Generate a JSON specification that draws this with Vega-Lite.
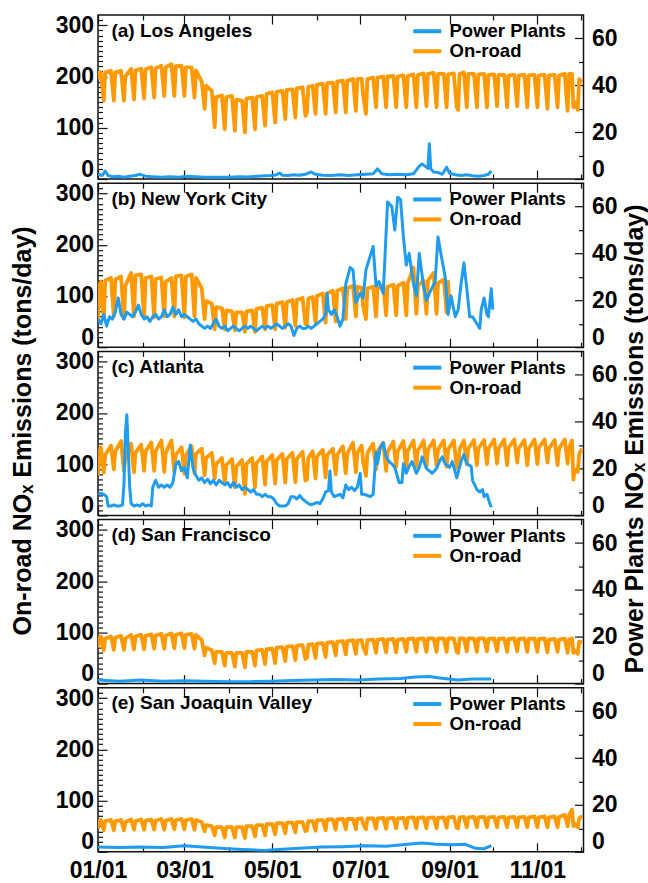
{
"$schema": "https://vega.github.io/schema/vega-lite/v6.json",
"padding": {"left": 9, "top": 8, "right": 2, "bottom": 0},
"config": {
  "font": "Liberation Sans",
  "view": {"stroke": "#111", "strokeWidth": 1.5},
  "axis": {"labelFont": "Liberation Sans", "labelFontWeight": "bold", "labelFontSize": 23, "labelColor": "#000", "tickColor": "#111", "tickWidth": 1.2, "domain": false, "grid": false, "labelOverlap": false, "labelBound": false, "titleFont": "Liberation Sans", "titleFontWeight": "bold", "titleFontSize": 25, "titleColor": "#000"},
  "axisX": {"labelFlush": false},
  "line": {"strokeJoin": "round"},
  "text": {"font": "Liberation Sans", "fontSize": 19, "fontWeight": "bold", "color": "#000", "align": "left", "baseline": "alphabetic", "dx": 0.5}
},
"datasets": {
"road": [
{"d":"2020-01-01","la":195,"ny":55,"at":78,"sf":70,"sj":45},
{"d":"2020-01-02","la":208,"ny":120,"at":125,"sf":90,"sj":60},
{"d":"2020-01-03","la":208,"ny":128,"at":133,"sf":92,"sj":62},
{"d":"2020-01-05","la":153,"ny":55,"at":84,"sf":65,"sj":42},
{"d":"2020-01-06","la":208,"ny":130,"at":118,"sf":88,"sj":60},
{"d":"2020-01-10","la":211,"ny":135,"at":136,"sf":92,"sj":62},
{"d":"2020-01-12","la":153,"ny":60,"at":90,"sf":66,"sj":42},
{"d":"2020-01-13","la":208,"ny":132,"at":125,"sf":90,"sj":60},
{"d":"2020-01-17","la":211,"ny":138,"at":145,"sf":93,"sj":62},
{"d":"2020-01-19","la":153,"ny":56,"at":87,"sf":66,"sj":42},
{"d":"2020-01-20","la":200,"ny":120,"at":112,"sf":88,"sj":58},
{"d":"2020-01-24","la":215,"ny":145,"at":140,"sf":95,"sj":63},
{"d":"2020-01-26","la":155,"ny":60,"at":84,"sf":67,"sj":43},
{"d":"2020-01-27","la":212,"ny":140,"at":122,"sf":92,"sj":60},
{"d":"2020-01-31","la":215,"ny":142,"at":138,"sf":95,"sj":63},
{"d":"2020-02-02","la":157,"ny":58,"at":87,"sf":67,"sj":43},
{"d":"2020-02-03","la":214,"ny":135,"at":125,"sf":93,"sj":61},
{"d":"2020-02-07","la":218,"ny":138,"at":142,"sf":96,"sj":63},
{"d":"2020-02-09","la":159,"ny":58,"at":87,"sf":68,"sj":43},
{"d":"2020-02-10","la":216,"ny":133,"at":125,"sf":94,"sj":61},
{"d":"2020-02-14","la":221,"ny":136,"at":146,"sf":97,"sj":64},
{"d":"2020-02-16","la":162,"ny":60,"at":85,"sf":68,"sj":43},
{"d":"2020-02-17","la":218,"ny":128,"at":122,"sf":94,"sj":61},
{"d":"2020-02-21","la":224,"ny":135,"at":146,"sf":98,"sj":64},
{"d":"2020-02-23","la":162,"ny":60,"at":84,"sf":69,"sj":44},
{"d":"2020-02-24","la":220,"ny":138,"at":118,"sf":95,"sj":62},
{"d":"2020-02-28","la":221,"ny":140,"at":133,"sf":98,"sj":64},
{"d":"2020-03-01","la":162,"ny":58,"at":81,"sf":69,"sj":44},
{"d":"2020-03-02","la":218,"ny":138,"at":118,"sf":95,"sj":62},
{"d":"2020-03-06","la":218,"ny":142,"at":135,"sf":97,"sj":64},
{"d":"2020-03-08","la":159,"ny":60,"at":82,"sf":68,"sj":43},
{"d":"2020-03-09","la":212,"ny":135,"at":120,"sf":95,"sj":62},
{"d":"2020-03-13","la":190,"ny":115,"at":130,"sf":85,"sj":58},
{"d":"2020-03-15","la":137,"ny":55,"at":78,"sf":55,"sj":40},
{"d":"2020-03-16","la":182,"ny":90,"at":112,"sf":70,"sj":52},
{"d":"2020-03-20","la":172,"ny":85,"at":122,"sf":65,"sj":50},
{"d":"2020-03-22","la":101,"ny":35,"at":72,"sf":40,"sj":32},
{"d":"2020-03-23","la":160,"ny":78,"at":100,"sf":62,"sj":48},
{"d":"2020-03-27","la":163,"ny":76,"at":112,"sf":62,"sj":48},
{"d":"2020-03-29","la":97,"ny":35,"at":64,"sf":35,"sj":28},
{"d":"2020-03-30","la":160,"ny":72,"at":98,"sf":60,"sj":48},
{"d":"2020-04-03","la":162,"ny":70,"at":110,"sf":60,"sj":48},
{"d":"2020-04-05","la":94,"ny":33,"at":55,"sf":33,"sj":28},
{"d":"2020-04-06","la":155,"ny":68,"at":95,"sf":60,"sj":48},
{"d":"2020-04-10","la":153,"ny":68,"at":108,"sf":60,"sj":48},
{"d":"2020-04-12","la":91,"ny":30,"at":42,"sf":32,"sj":27},
{"d":"2020-04-13","la":157,"ny":70,"at":100,"sf":62,"sj":50},
{"d":"2020-04-17","la":159,"ny":72,"at":112,"sf":62,"sj":50},
{"d":"2020-04-19","la":97,"ny":30,"at":55,"sf":35,"sj":30},
{"d":"2020-04-20","la":160,"ny":75,"at":102,"sf":65,"sj":52},
{"d":"2020-04-24","la":162,"ny":77,"at":115,"sf":66,"sj":52},
{"d":"2020-04-26","la":104,"ny":35,"at":60,"sf":38,"sj":32},
{"d":"2020-04-27","la":166,"ny":80,"at":105,"sf":67,"sj":54},
{"d":"2020-05-01","la":169,"ny":82,"at":118,"sf":68,"sj":54},
{"d":"2020-05-03","la":110,"ny":35,"at":62,"sf":40,"sj":34},
{"d":"2020-05-04","la":170,"ny":85,"at":108,"sf":70,"sj":56},
{"d":"2020-05-08","la":172,"ny":88,"at":120,"sf":71,"sj":56},
{"d":"2020-05-10","la":117,"ny":38,"at":64,"sf":44,"sj":36},
{"d":"2020-05-11","la":174,"ny":88,"at":110,"sf":72,"sj":57},
{"d":"2020-05-15","la":175,"ny":92,"at":122,"sf":73,"sj":57},
{"d":"2020-05-17","la":120,"ny":42,"at":65,"sf":46,"sj":38},
{"d":"2020-05-18","la":177,"ny":92,"at":110,"sf":74,"sj":58},
{"d":"2020-05-22","la":179,"ny":96,"at":124,"sf":75,"sj":58},
{"d":"2020-05-24","la":123,"ny":45,"at":68,"sf":48,"sj":40},
{"d":"2020-05-25","la":130,"ny":45,"at":70,"sf":50,"sj":42},
{"d":"2020-05-26","la":180,"ny":95,"at":112,"sf":76,"sj":60},
{"d":"2020-05-29","la":182,"ny":98,"at":125,"sf":77,"sj":60},
{"d":"2020-05-31","la":127,"ny":48,"at":72,"sf":50,"sj":41},
{"d":"2020-06-01","la":184,"ny":100,"at":115,"sf":78,"sj":62},
{"d":"2020-06-05","la":186,"ny":105,"at":128,"sf":79,"sj":62},
{"d":"2020-06-07","la":127,"ny":48,"at":74,"sf":52,"sj":42},
{"d":"2020-06-08","la":187,"ny":105,"at":118,"sf":80,"sj":63},
{"d":"2020-06-12","la":188,"ny":110,"at":130,"sf":81,"sj":63},
{"d":"2020-06-14","la":130,"ny":50,"at":80,"sf":55,"sj":43},
{"d":"2020-06-15","la":190,"ny":110,"at":118,"sf":82,"sj":63},
{"d":"2020-06-19","la":192,"ny":115,"at":135,"sf":83,"sj":64},
{"d":"2020-06-21","la":130,"ny":55,"at":82,"sf":57,"sj":44},
{"d":"2020-06-22","la":192,"ny":115,"at":120,"sf":83,"sj":64},
{"d":"2020-06-26","la":195,"ny":120,"at":142,"sf":85,"sj":64},
{"d":"2020-06-28","la":133,"ny":60,"at":84,"sf":58,"sj":44},
{"d":"2020-06-29","la":195,"ny":118,"at":122,"sf":84,"sj":64},
{"d":"2020-07-02","la":196,"ny":116,"at":136,"sf":85,"sj":65},
{"d":"2020-07-03","la":165,"ny":80,"at":105,"sf":72,"sj":55},
{"d":"2020-07-05","la":127,"ny":55,"at":77,"sf":58,"sj":44},
{"d":"2020-07-06","la":195,"ny":115,"at":122,"sf":85,"sj":65},
{"d":"2020-07-10","la":198,"ny":118,"at":140,"sf":86,"sj":65},
{"d":"2020-07-12","la":140,"ny":60,"at":90,"sf":60,"sj":45},
{"d":"2020-07-13","la":198,"ny":115,"at":124,"sf":86,"sj":65},
{"d":"2020-07-17","la":200,"ny":120,"at":142,"sf":87,"sj":66},
{"d":"2020-07-19","la":140,"ny":62,"at":87,"sf":61,"sj":45},
{"d":"2020-07-20","la":200,"ny":118,"at":124,"sf":86,"sj":65},
{"d":"2020-07-24","la":201,"ny":122,"at":144,"sf":87,"sj":66},
{"d":"2020-07-26","la":140,"ny":62,"at":95,"sf":61,"sj":46},
{"d":"2020-07-27","la":200,"ny":120,"at":125,"sf":86,"sj":65},
{"d":"2020-07-31","la":202,"ny":126,"at":145,"sf":87,"sj":66},
{"d":"2020-08-02","la":140,"ny":62,"at":90,"sf":62,"sj":46},
{"d":"2020-08-03","la":201,"ny":125,"at":126,"sf":87,"sj":66},
{"d":"2020-08-07","la":204,"ny":155,"at":146,"sf":88,"sj":67},
{"d":"2020-08-09","la":140,"ny":65,"at":95,"sf":62,"sj":46},
{"d":"2020-08-10","la":203,"ny":120,"at":126,"sf":87,"sj":66},
{"d":"2020-08-14","la":206,"ny":130,"at":146,"sf":88,"sj":67},
{"d":"2020-08-16","la":142,"ny":65,"at":95,"sf":62,"sj":46},
{"d":"2020-08-17","la":205,"ny":130,"at":128,"sf":88,"sj":66},
{"d":"2020-08-21","la":207,"ny":145,"at":146,"sf":88,"sj":67},
{"d":"2020-08-23","la":140,"ny":65,"at":98,"sf":62,"sj":46},
{"d":"2020-08-24","la":205,"ny":125,"at":128,"sf":88,"sj":66},
{"d":"2020-08-28","la":205,"ny":132,"at":146,"sf":88,"sj":67},
{"d":"2020-08-30","la":140,"ny":68,"at":95,"sf":62,"sj":47},
{"d":"2020-08-31","la":204,"ny":128,"at":128,"sf":88,"sj":67},
{"d":"2020-09-01","ny":75},
{"d":"2020-09-04","la":206,"at":146,"sf":88,"sj":68},
{"d":"2020-09-06","la":140,"at":95,"sf":62,"sj":47},
{"d":"2020-09-07","la":135,"at":90,"sf":60,"sj":46},
{"d":"2020-09-08","la":205,"at":130,"sf":88,"sj":67},
{"d":"2020-09-11","la":208,"at":146,"sf":88,"sj":68},
{"d":"2020-09-13","la":140,"at":100,"sf":63,"sj":48},
{"d":"2020-09-14","la":205,"at":130,"sf":88,"sj":67},
{"d":"2020-09-18","la":205,"at":147,"sf":88,"sj":68},
{"d":"2020-09-20","la":140,"at":98,"sf":62,"sj":48},
{"d":"2020-09-21","la":204,"at":130,"sf":88,"sj":67},
{"d":"2020-09-25","la":205,"at":147,"sf":88,"sj":68},
{"d":"2020-09-27","la":140,"at":100,"sf":63,"sj":48},
{"d":"2020-09-28","la":203,"at":130,"sf":87,"sj":67},
{"d":"2020-10-02","la":204,"at":148,"sf":88,"sj":68},
{"d":"2020-10-04","la":142,"at":101,"sf":63,"sj":48},
{"d":"2020-10-05","la":203,"at":130,"sf":87,"sj":67},
{"d":"2020-10-09","la":203,"at":148,"sf":88,"sj":68},
{"d":"2020-10-11","la":140,"at":98,"sf":62,"sj":48},
{"d":"2020-10-12","la":202,"at":132,"sf":87,"sj":67},
{"d":"2020-10-16","la":203,"at":148,"sf":88,"sj":68},
{"d":"2020-10-18","la":142,"at":103,"sf":63,"sj":48},
{"d":"2020-10-19","la":202,"at":130,"sf":87,"sj":67},
{"d":"2020-10-23","la":203,"at":147,"sf":88,"sj":68},
{"d":"2020-10-25","la":140,"at":98,"sf":62,"sj":48},
{"d":"2020-10-26","la":202,"at":130,"sf":87,"sj":67},
{"d":"2020-10-30","la":203,"at":148,"sf":88,"sj":69},
{"d":"2020-11-01","la":140,"at":100,"sf":62,"sj":48},
{"d":"2020-11-02","la":202,"at":132,"sf":87,"sj":67},
{"d":"2020-11-06","la":203,"at":148,"sf":88,"sj":69},
{"d":"2020-11-08","la":137,"at":103,"sf":61,"sj":48},
{"d":"2020-11-09","la":202,"at":130,"sf":86,"sj":67},
{"d":"2020-11-13","la":203,"at":147,"sf":87,"sj":69},
{"d":"2020-11-15","la":140,"at":98,"sf":62,"sj":48},
{"d":"2020-11-16","la":202,"at":130,"sf":86,"sj":68},
{"d":"2020-11-20","la":205,"at":148,"sf":88,"sj":72},
{"d":"2020-11-22","la":133,"at":101,"sf":60,"sj":50},
{"d":"2020-11-23","la":205,"at":132,"sf":86,"sj":72},
{"d":"2020-11-25","la":205,"at":146,"sf":88,"sj":82},
{"d":"2020-11-26","la":140,"at":70,"sf":60,"sj":50},
{"d":"2020-11-27","la":150,"at":90,"sf":65,"sj":55},
{"d":"2020-11-29","la":135,"at":85,"sf":58,"sj":48},
{"d":"2020-11-30","la":195,"at":120,"sf":82,"sj":65},
{"d":"2020-12-02","la":188,"at":130,"sf":80,"sj":70}
],
"pla": [
{"d":"2020-01-01","v":2},{"d":"2020-01-04","v":1.5},{"d":"2020-01-06","v":3.4},{"d":"2020-01-08","v":1.5},{"d":"2020-01-11","v":1},{"d":"2020-01-15","v":1.2},{"d":"2020-01-19","v":0.8},{"d":"2020-01-23","v":1.2},{"d":"2020-01-27","v":1.5},{"d":"2020-01-30","v":2},{"d":"2020-02-03","v":1.2},{"d":"2020-02-08","v":1},{"d":"2020-02-14","v":0.8},{"d":"2020-02-20","v":1},{"d":"2020-02-26","v":0.8},{"d":"2020-03-03","v":1.2},{"d":"2020-03-09","v":1},{"d":"2020-03-15","v":0.8},{"d":"2020-03-21","v":0.7},{"d":"2020-03-27","v":0.8},{"d":"2020-04-02","v":0.8},{"d":"2020-04-08","v":1},{"d":"2020-04-14","v":0.9},{"d":"2020-04-20","v":1.2},{"d":"2020-04-26","v":1.4},{"d":"2020-04-30","v":1.5},{"d":"2020-05-04","v":1.8},{"d":"2020-05-06","v":2.6},{"d":"2020-05-08","v":1.6},{"d":"2020-05-12","v":1.5},{"d":"2020-05-16","v":1.8},{"d":"2020-05-20","v":1.6},{"d":"2020-05-24","v":2},{"d":"2020-05-28","v":3},{"d":"2020-05-31","v":2},{"d":"2020-06-05","v":1.6},{"d":"2020-06-11","v":1.5},{"d":"2020-06-17","v":1.8},{"d":"2020-06-23","v":1.5},{"d":"2020-06-29","v":1.8},{"d":"2020-07-05","v":2},{"d":"2020-07-10","v":2.2},{"d":"2020-07-13","v":4.3},{"d":"2020-07-16","v":2.2},{"d":"2020-07-21","v":1.8},{"d":"2020-07-27","v":2},{"d":"2020-08-02","v":1.8},{"d":"2020-08-07","v":2.2},{"d":"2020-08-11","v":5.5},{"d":"2020-08-13","v":6.4},{"d":"2020-08-15","v":5.5},{"d":"2020-08-17","v":4.5},{"d":"2020-08-18","v":15},{"d":"2020-08-19","v":4.3},{"d":"2020-08-21","v":3},{"d":"2020-08-24","v":2.8},{"d":"2020-08-27","v":2},{"d":"2020-08-30","v":5},{"d":"2020-09-01","v":2.5},{"d":"2020-09-05","v":1.8},{"d":"2020-09-09","v":1.5},{"d":"2020-09-13","v":1.8},{"d":"2020-09-17","v":1.4},{"d":"2020-09-21","v":1.2},{"d":"2020-09-25","v":1.5},{"d":"2020-09-28","v":2},{"d":"2020-09-30","v":3.4}
],
"pny": [
{"d":"2020-01-01","v":12},{"d":"2020-01-03","v":10},{"d":"2020-01-05","v":14},{"d":"2020-01-07","v":9},{"d":"2020-01-09","v":13},{"d":"2020-01-11","v":12},{"d":"2020-01-13","v":15},{"d":"2020-01-15","v":21},{"d":"2020-01-17","v":14},{"d":"2020-01-19","v":12},{"d":"2020-01-21","v":15},{"d":"2020-01-23","v":14},{"d":"2020-01-25","v":13},{"d":"2020-01-27","v":15},{"d":"2020-01-29","v":18},{"d":"2020-01-31","v":14},{"d":"2020-02-02","v":12},{"d":"2020-02-04","v":13},{"d":"2020-02-06","v":11},{"d":"2020-02-08","v":13},{"d":"2020-02-10","v":14},{"d":"2020-02-12","v":12},{"d":"2020-02-14","v":13},{"d":"2020-02-16","v":16},{"d":"2020-02-18","v":13},{"d":"2020-02-20","v":14},{"d":"2020-02-22","v":17},{"d":"2020-02-24","v":14},{"d":"2020-02-26","v":16},{"d":"2020-02-28","v":13},{"d":"2020-03-01","v":14},{"d":"2020-03-03","v":13},{"d":"2020-03-05","v":12},{"d":"2020-03-07","v":11},{"d":"2020-03-09","v":12},{"d":"2020-03-11","v":10},{"d":"2020-03-13","v":9},{"d":"2020-03-15","v":8},{"d":"2020-03-17","v":9},{"d":"2020-03-19","v":8},{"d":"2020-03-21","v":10},{"d":"2020-03-23","v":12},{"d":"2020-03-25","v":9},{"d":"2020-03-27","v":8},{"d":"2020-03-29","v":9},{"d":"2020-03-31","v":7},{"d":"2020-04-02","v":8},{"d":"2020-04-04","v":9},{"d":"2020-04-06","v":8},{"d":"2020-04-08","v":7},{"d":"2020-04-10","v":8},{"d":"2020-04-12","v":9},{"d":"2020-04-14","v":8},{"d":"2020-04-16","v":9},{"d":"2020-04-18","v":8},{"d":"2020-04-20","v":7},{"d":"2020-04-22","v":8},{"d":"2020-04-24","v":9},{"d":"2020-04-26","v":8},{"d":"2020-04-28","v":9},{"d":"2020-04-30","v":8},{"d":"2020-05-02","v":9},{"d":"2020-05-04","v":10},{"d":"2020-05-06","v":9},{"d":"2020-05-08","v":8},{"d":"2020-05-10","v":9},{"d":"2020-05-12","v":10},{"d":"2020-05-14","v":9},{"d":"2020-05-16","v":5},{"d":"2020-05-18","v":8},{"d":"2020-05-20","v":9},{"d":"2020-05-22","v":8},{"d":"2020-05-24","v":8},{"d":"2020-05-26","v":9},{"d":"2020-05-28","v":8},{"d":"2020-05-30","v":9},{"d":"2020-06-01","v":10},{"d":"2020-06-03","v":11},{"d":"2020-06-05","v":12},{"d":"2020-06-07","v":14},{"d":"2020-06-08","v":23},{"d":"2020-06-09","v":16},{"d":"2020-06-11","v":14},{"d":"2020-06-13","v":16},{"d":"2020-06-15","v":13},{"d":"2020-06-17","v":9},{"d":"2020-06-19","v":12},{"d":"2020-06-21","v":27},{"d":"2020-06-24","v":34},{"d":"2020-06-26","v":33},{"d":"2020-06-28","v":19},{"d":"2020-07-01","v":23},{"d":"2020-07-03","v":21},{"d":"2020-07-05","v":33},{"d":"2020-07-07","v":37},{"d":"2020-07-10","v":43},{"d":"2020-07-12","v":26},{"d":"2020-07-14","v":28},{"d":"2020-07-17","v":23},{"d":"2020-07-20","v":62},{"d":"2020-07-23","v":60},{"d":"2020-07-25","v":50},{"d":"2020-07-27","v":64},{"d":"2020-07-29","v":63},{"d":"2020-07-31","v":47},{"d":"2020-08-02","v":35},{"d":"2020-08-04","v":40},{"d":"2020-08-07","v":27},{"d":"2020-08-09","v":22},{"d":"2020-08-11","v":40},{"d":"2020-08-14","v":26},{"d":"2020-08-16","v":20},{"d":"2020-08-18","v":23},{"d":"2020-08-22","v":28},{"d":"2020-08-24","v":47},{"d":"2020-08-26","v":40},{"d":"2020-08-29","v":30},{"d":"2020-08-31","v":14},{"d":"2020-09-02","v":22},{"d":"2020-09-05","v":13},{"d":"2020-09-07","v":16},{"d":"2020-09-09","v":27},{"d":"2020-09-11","v":36},{"d":"2020-09-13","v":25},{"d":"2020-09-15","v":13},{"d":"2020-09-17","v":13},{"d":"2020-09-20","v":10},{"d":"2020-09-22","v":8},{"d":"2020-09-23","v":16},{"d":"2020-09-25","v":21},{"d":"2020-09-27","v":14},{"d":"2020-09-28","v":13},{"d":"2020-09-30","v":25},{"d":"2020-10-01","v":16}
],
"pat": [
{"d":"2020-01-01","v":9},{"d":"2020-01-03","v":9.5},{"d":"2020-01-05","v":9},{"d":"2020-01-07","v":8},{"d":"2020-01-08","v":4},{"d":"2020-01-10","v":4},{"d":"2020-01-12","v":4.5},{"d":"2020-01-14","v":4},{"d":"2020-01-16","v":4},{"d":"2020-01-18","v":4.5},{"d":"2020-01-19","v":13},{"d":"2020-01-20","v":35},{"d":"2020-01-21","v":43},{"d":"2020-01-22","v":28},{"d":"2020-01-23","v":12},{"d":"2020-01-24","v":5},{"d":"2020-01-26","v":4},{"d":"2020-01-28","v":4.5},{"d":"2020-01-30","v":4},{"d":"2020-02-01","v":5},{"d":"2020-02-03","v":4},{"d":"2020-02-05","v":4.5},{"d":"2020-02-07","v":4},{"d":"2020-02-08","v":12},{"d":"2020-02-10","v":15},{"d":"2020-02-12","v":12},{"d":"2020-02-14","v":13},{"d":"2020-02-16","v":12},{"d":"2020-02-18","v":13},{"d":"2020-02-20","v":12},{"d":"2020-02-22","v":14},{"d":"2020-02-24","v":22},{"d":"2020-02-26","v":23},{"d":"2020-02-28","v":19},{"d":"2020-03-01","v":20.5},{"d":"2020-03-03","v":16},{"d":"2020-03-05","v":30},{"d":"2020-03-07","v":20},{"d":"2020-03-09","v":17},{"d":"2020-03-11","v":15},{"d":"2020-03-13","v":16},{"d":"2020-03-15","v":14},{"d":"2020-03-17","v":15.5},{"d":"2020-03-19","v":13.5},{"d":"2020-03-21","v":15},{"d":"2020-03-23","v":13},{"d":"2020-03-25","v":15},{"d":"2020-03-27","v":14},{"d":"2020-03-29","v":13},{"d":"2020-03-31","v":14},{"d":"2020-04-02","v":12},{"d":"2020-04-04","v":14},{"d":"2020-04-06","v":12},{"d":"2020-04-08","v":13},{"d":"2020-04-10","v":11},{"d":"2020-04-12","v":12},{"d":"2020-04-14","v":11},{"d":"2020-04-16","v":10},{"d":"2020-04-18","v":11},{"d":"2020-04-20","v":9},{"d":"2020-04-22","v":9},{"d":"2020-04-24","v":8},{"d":"2020-04-26","v":9},{"d":"2020-04-28","v":8},{"d":"2020-04-30","v":8},{"d":"2020-05-02","v":7},{"d":"2020-05-04","v":5},{"d":"2020-05-06","v":4},{"d":"2020-05-08","v":4},{"d":"2020-05-10","v":4},{"d":"2020-05-12","v":5},{"d":"2020-05-14","v":8},{"d":"2020-05-16","v":8},{"d":"2020-05-18","v":7},{"d":"2020-05-20","v":8.5},{"d":"2020-05-22","v":7},{"d":"2020-05-24","v":6},{"d":"2020-05-26","v":5},{"d":"2020-05-28","v":4.5},{"d":"2020-05-30","v":5},{"d":"2020-06-01","v":5.5},{"d":"2020-06-03","v":5},{"d":"2020-06-05","v":7},{"d":"2020-06-07","v":10},{"d":"2020-06-09","v":10.6},{"d":"2020-06-10","v":19},{"d":"2020-06-11","v":10},{"d":"2020-06-13","v":8},{"d":"2020-06-15","v":8.5},{"d":"2020-06-17","v":9},{"d":"2020-06-19","v":7.5},{"d":"2020-06-21","v":13},{"d":"2020-06-23","v":11},{"d":"2020-06-25","v":12},{"d":"2020-06-27","v":10.6},{"d":"2020-06-29","v":12},{"d":"2020-07-01","v":18},{"d":"2020-07-02","v":9},{"d":"2020-07-04","v":9},{"d":"2020-07-06","v":8.5},{"d":"2020-07-08","v":8},{"d":"2020-07-10","v":9},{"d":"2020-07-12","v":27},{"d":"2020-07-13","v":22},{"d":"2020-07-15","v":29},{"d":"2020-07-17","v":31},{"d":"2020-07-19","v":25},{"d":"2020-07-21","v":23},{"d":"2020-07-23","v":22},{"d":"2020-07-25","v":20.5},{"d":"2020-07-28","v":14},{"d":"2020-07-30","v":14},{"d":"2020-07-31","v":22},{"d":"2020-08-02","v":18},{"d":"2020-08-04","v":21},{"d":"2020-08-06","v":23},{"d":"2020-08-09","v":18},{"d":"2020-08-11","v":20.5},{"d":"2020-08-13","v":25},{"d":"2020-08-16","v":20},{"d":"2020-08-18","v":19},{"d":"2020-08-20","v":18},{"d":"2020-08-23","v":20},{"d":"2020-08-25","v":23},{"d":"2020-08-27","v":25},{"d":"2020-08-29","v":22},{"d":"2020-09-01","v":20.5},{"d":"2020-09-03","v":23},{"d":"2020-09-06","v":16},{"d":"2020-09-09","v":23},{"d":"2020-09-11","v":26},{"d":"2020-09-13","v":22},{"d":"2020-09-16","v":21},{"d":"2020-09-17","v":15},{"d":"2020-09-20","v":11},{"d":"2020-09-22","v":10},{"d":"2020-09-24","v":11},{"d":"2020-09-25","v":8},{"d":"2020-09-27","v":9},{"d":"2020-09-29","v":5},{"d":"2020-09-30","v":3.5}
],
"psf": [
{"d":"2020-01-01","v":1.5},{"d":"2020-01-16","v":1},{"d":"2020-01-31","v":1.5},{"d":"2020-02-15","v":1},{"d":"2020-03-01","v":1.2},{"d":"2020-03-16","v":1},{"d":"2020-03-31","v":0.8},{"d":"2020-04-15","v":0.8},{"d":"2020-04-30","v":1},{"d":"2020-05-15","v":1.3},{"d":"2020-05-30","v":1.5},{"d":"2020-06-14","v":1.8},{"d":"2020-06-29","v":1.5},{"d":"2020-07-14","v":2},{"d":"2020-07-29","v":2.2},{"d":"2020-08-08","v":2.8},{"d":"2020-08-18","v":3},{"d":"2020-08-28","v":2.2},{"d":"2020-09-07","v":1.5},{"d":"2020-09-17","v":2},{"d":"2020-09-30","v":2}
],
"psj": [
{"d":"2020-01-01","v":2},{"d":"2020-01-16","v":1.8},{"d":"2020-01-31","v":2},{"d":"2020-02-15","v":1.8},{"d":"2020-03-01","v":2.6},{"d":"2020-03-11","v":2.2},{"d":"2020-03-26","v":1.5},{"d":"2020-04-10","v":1},{"d":"2020-04-25","v":0.6},{"d":"2020-05-05","v":1},{"d":"2020-05-20","v":1.5},{"d":"2020-06-04","v":2},{"d":"2020-06-19","v":2.2},{"d":"2020-07-04","v":2.6},{"d":"2020-07-19","v":2.4},{"d":"2020-08-03","v":3.2},{"d":"2020-08-13","v":3.8},{"d":"2020-08-23","v":3.2},{"d":"2020-09-02","v":3},{"d":"2020-09-12","v":3.2},{"d":"2020-09-19","v":1.5},{"d":"2020-09-25","v":1.3},{"d":"2020-09-30","v":2.6}
]
},
"spacing": 4.2,
"bounds": "flush",
"resolve": {"scale": {"color": "independent"}, "legend": {"color": "independent"}},
"vconcat": [
{
 "width": 485.5, "height": 164,
 "layer": [
  {"data": {"name": "road"}, "transform": [{"filter": "isValid(datum.la)"}],
   "mark": {"type": "line", "strokeWidth": 3.8, "clip": true},
   "encoding": {
    "x": {"field": "d", "type": "temporal", "scale": {"type": "utc", "domain": [1577836800000, 1606953600000]}, "axis": {"title": null, "values": [1577836800000,1580515200000,1583020800000,1585699200000,1588291200000,1590969600000,1593561600000,1596240000000,1598918400000,1601510400000,1604188800000,1606780800000], "labels": false, "tickSize": {"condition": {"test": "utcmonth(datum.value) % 2 === 0", "value": -9}, "value": -5}}},
    "y": {"field": "la", "type": "quantitative", "scale": {"domain": [0, 320], "nice": false}, "axis": {"title": null, "values": [0,10,20,30,40,50,60,70,80,90,100,110,120,130,140,150,160,170,180,190,200,210,220,230,240,250,260,270,280,290,300,310], "labelExpr": "datum.value % 100 === 0 ? datum.label : ''", "tickSize": {"condition": {"test": "datum.value % 100 === 0", "value": -9}, "value": -4.5}, "labelPadding": 13.5, "labelFlush": 1, "labelFlushOffset": 2}},
    "color": {"datum": "On-road", "scale": {"domain": ["Power Plants", "On-road"], "range": ["#1f9bf0", "#ff9900"]}, "legend": {"title": null, "orient": "none", "legendX": 320, "legendY": 7, "symbolType": "M-2,0H2", "symbolSize": 196, "symbolStrokeWidth": 4, "labelFont": "Liberation Sans", "labelFontSize": 18.5, "labelFontWeight": "bold", "labelColor": "#000", "labelOffset": 13, "rowPadding": 1, "padding": 0}}
   }},
  {"data": {"name": "pla"},
   "mark": {"type": "line", "strokeWidth": 3, "clip": true},
   "encoding": {
    "x": {"field": "d", "type": "temporal", "scale": {"type": "utc", "domain": [1577836800000, 1606953600000]}, "axis": {"orient": "top", "title": null, "values": [1577836800000,1580515200000,1583020800000,1585699200000,1588291200000,1590969600000,1593561600000,1596240000000,1598918400000,1601510400000,1604188800000,1606780800000], "labels": false, "tickSize": {"condition": {"test": "utcmonth(datum.value) % 2 === 0", "value": -9}, "value": -5}}},
    "y": {"field": "v", "type": "quantitative", "scale": {"domain": [0, 70], "nice": false}, "axis": {"orient": "right", "title": null, "values": [0,10,20,30,40,50,60], "labelExpr": "datum.value % 20 === 0 ? datum.label : ''", "tickSize": {"condition": {"test": "datum.value % 20 === 0", "value": -9}, "value": -5}, "labelPadding": 17, "labelFlush": 1, "labelFlushOffset": 2}},
    "color": {"datum": "Power Plants"}
   }},
  {"data": {"values": [{"label": "(a) Los Angeles"}]},
   "mark": {"type": "text"},
   "encoding": {
    "x": {"datum": 1578614400000, "type": "temporal", "scale": {"type": "utc", "domain": [1577836800000, 1606953600000]}, "axis": null},
    "y": {"datum": 278, "type": "quantitative", "scale": {"domain": [0, 320], "nice": false}, "axis": null},
    "text": {"field": "label", "type": "nominal"}
   }}
 ],
 "resolve": {"scale": {"x": "independent", "y": "independent"}}
},
{
 "width": 485.5, "height": 164,
 "layer": [
  {"data": {"name": "road"}, "transform": [{"filter": "isValid(datum.ny)"}],
   "mark": {"type": "line", "strokeWidth": 3.8, "clip": true},
   "encoding": {
    "x": {"field": "d", "type": "temporal", "scale": {"type": "utc", "domain": [1577836800000, 1606953600000]}, "axis": {"title": null, "values": [1577836800000,1580515200000,1583020800000,1585699200000,1588291200000,1590969600000,1593561600000,1596240000000,1598918400000,1601510400000,1604188800000,1606780800000], "labels": false, "tickSize": {"condition": {"test": "utcmonth(datum.value) % 2 === 0", "value": -9}, "value": -5}}},
    "y": {"field": "ny", "type": "quantitative", "scale": {"domain": [0, 320], "nice": false}, "axis": {"title": null, "values": [0,10,20,30,40,50,60,70,80,90,100,110,120,130,140,150,160,170,180,190,200,210,220,230,240,250,260,270,280,290,300,310], "labelExpr": "datum.value % 100 === 0 ? datum.label : ''", "tickSize": {"condition": {"test": "datum.value % 100 === 0", "value": -9}, "value": -4.5}, "labelPadding": 13.5, "labelFlush": 1, "labelFlushOffset": 2}},
    "color": {"datum": "On-road", "scale": {"domain": ["Power Plants", "On-road"], "range": ["#1f9bf0", "#ff9900"]}, "legend": {"title": null, "orient": "none", "legendX": 320, "legendY": 7, "symbolType": "M-2,0H2", "symbolSize": 196, "symbolStrokeWidth": 4, "labelFont": "Liberation Sans", "labelFontSize": 18.5, "labelFontWeight": "bold", "labelColor": "#000", "labelOffset": 13, "rowPadding": 1, "padding": 0}}
   }},
  {"data": {"name": "pny"},
   "mark": {"type": "line", "strokeWidth": 3, "clip": true},
   "encoding": {
    "x": {"field": "d", "type": "temporal", "scale": {"type": "utc", "domain": [1577836800000, 1606953600000]}, "axis": {"orient": "top", "title": null, "values": [1577836800000,1580515200000,1583020800000,1585699200000,1588291200000,1590969600000,1593561600000,1596240000000,1598918400000,1601510400000,1604188800000,1606780800000], "labels": false, "tickSize": {"condition": {"test": "utcmonth(datum.value) % 2 === 0", "value": -9}, "value": -5}}},
    "y": {"field": "v", "type": "quantitative", "scale": {"domain": [0, 70], "nice": false}, "axis": {"orient": "right", "title": null, "values": [0,10,20,30,40,50,60], "labelExpr": "datum.value % 20 === 0 ? datum.label : ''", "tickSize": {"condition": {"test": "datum.value % 20 === 0", "value": -9}, "value": -5}, "labelPadding": 17, "labelFlush": 1, "labelFlushOffset": 2}},
    "color": {"datum": "Power Plants"}
   }},
  {"data": {"values": [{"label": "(b) New York City"}]},
   "mark": {"type": "text"},
   "encoding": {
    "x": {"datum": 1578614400000, "type": "temporal", "scale": {"type": "utc", "domain": [1577836800000, 1606953600000]}, "axis": null},
    "y": {"datum": 278, "type": "quantitative", "scale": {"domain": [0, 320], "nice": false}, "axis": null},
    "text": {"field": "label", "type": "nominal"}
   }}
 ],
 "resolve": {"scale": {"x": "independent", "y": "independent"}}
},
{
 "width": 485.5, "height": 164,
 "layer": [
  {"data": {"name": "road"}, "transform": [{"filter": "isValid(datum.at)"}],
   "mark": {"type": "line", "strokeWidth": 3.8, "clip": true},
   "encoding": {
    "x": {"field": "d", "type": "temporal", "scale": {"type": "utc", "domain": [1577836800000, 1606953600000]}, "axis": {"title": null, "values": [1577836800000,1580515200000,1583020800000,1585699200000,1588291200000,1590969600000,1593561600000,1596240000000,1598918400000,1601510400000,1604188800000,1606780800000], "labels": false, "tickSize": {"condition": {"test": "utcmonth(datum.value) % 2 === 0", "value": -9}, "value": -5}}},
    "y": {"field": "at", "type": "quantitative", "scale": {"domain": [0, 320], "nice": false}, "axis": {"title": "On-road NOₓ Emissions (tons/day)", "titlePadding": 20, "titleY": 79, "values": [0,10,20,30,40,50,60,70,80,90,100,110,120,130,140,150,160,170,180,190,200,210,220,230,240,250,260,270,280,290,300,310], "labelExpr": "datum.value % 100 === 0 ? datum.label : ''", "tickSize": {"condition": {"test": "datum.value % 100 === 0", "value": -9}, "value": -4.5}, "labelPadding": 13.5, "labelFlush": 1, "labelFlushOffset": 2}},
    "color": {"datum": "On-road", "scale": {"domain": ["Power Plants", "On-road"], "range": ["#1f9bf0", "#ff9900"]}, "legend": {"title": null, "orient": "none", "legendX": 320, "legendY": 7, "symbolType": "M-2,0H2", "symbolSize": 196, "symbolStrokeWidth": 4, "labelFont": "Liberation Sans", "labelFontSize": 18.5, "labelFontWeight": "bold", "labelColor": "#000", "labelOffset": 13, "rowPadding": 1, "padding": 0}}
   }},
  {"data": {"name": "pat"},
   "mark": {"type": "line", "strokeWidth": 3, "clip": true},
   "encoding": {
    "x": {"field": "d", "type": "temporal", "scale": {"type": "utc", "domain": [1577836800000, 1606953600000]}, "axis": {"orient": "top", "title": null, "values": [1577836800000,1580515200000,1583020800000,1585699200000,1588291200000,1590969600000,1593561600000,1596240000000,1598918400000,1601510400000,1604188800000,1606780800000], "labels": false, "tickSize": {"condition": {"test": "utcmonth(datum.value) % 2 === 0", "value": -9}, "value": -5}}},
    "y": {"field": "v", "type": "quantitative", "scale": {"domain": [0, 70], "nice": false}, "axis": {"orient": "right", "title": "Power Plants NOₓ Emissions (tons/day)", "titleAngle": 270, "titleBaseline": "top", "titlePadding": 5, "titleY": 87, "values": [0,10,20,30,40,50,60], "labelExpr": "datum.value % 20 === 0 ? datum.label : ''", "tickSize": {"condition": {"test": "datum.value % 20 === 0", "value": -9}, "value": -5}, "labelPadding": 17, "labelFlush": 1, "labelFlushOffset": 2}},
    "color": {"datum": "Power Plants"}
   }},
  {"data": {"values": [{"label": "(c) Atlanta"}]},
   "mark": {"type": "text"},
   "encoding": {
    "x": {"datum": 1578614400000, "type": "temporal", "scale": {"type": "utc", "domain": [1577836800000, 1606953600000]}, "axis": null},
    "y": {"datum": 278, "type": "quantitative", "scale": {"domain": [0, 320], "nice": false}, "axis": null},
    "text": {"field": "label", "type": "nominal"}
   }}
 ],
 "resolve": {"scale": {"x": "independent", "y": "independent"}}
},
{
 "width": 485.5, "height": 164,
 "layer": [
  {"data": {"name": "road"}, "transform": [{"filter": "isValid(datum.sf)"}],
   "mark": {"type": "line", "strokeWidth": 3.8, "clip": true},
   "encoding": {
    "x": {"field": "d", "type": "temporal", "scale": {"type": "utc", "domain": [1577836800000, 1606953600000]}, "axis": {"title": null, "values": [1577836800000,1580515200000,1583020800000,1585699200000,1588291200000,1590969600000,1593561600000,1596240000000,1598918400000,1601510400000,1604188800000,1606780800000], "labels": false, "tickSize": {"condition": {"test": "utcmonth(datum.value) % 2 === 0", "value": -9}, "value": -5}}},
    "y": {"field": "sf", "type": "quantitative", "scale": {"domain": [0, 320], "nice": false}, "axis": {"title": null, "values": [0,10,20,30,40,50,60,70,80,90,100,110,120,130,140,150,160,170,180,190,200,210,220,230,240,250,260,270,280,290,300,310], "labelExpr": "datum.value % 100 === 0 ? datum.label : ''", "tickSize": {"condition": {"test": "datum.value % 100 === 0", "value": -9}, "value": -4.5}, "labelPadding": 13.5, "labelFlush": 1, "labelFlushOffset": 2}},
    "color": {"datum": "On-road", "scale": {"domain": ["Power Plants", "On-road"], "range": ["#1f9bf0", "#ff9900"]}, "legend": {"title": null, "orient": "none", "legendX": 320, "legendY": 7, "symbolType": "M-2,0H2", "symbolSize": 196, "symbolStrokeWidth": 4, "labelFont": "Liberation Sans", "labelFontSize": 18.5, "labelFontWeight": "bold", "labelColor": "#000", "labelOffset": 13, "rowPadding": 1, "padding": 0}}
   }},
  {"data": {"name": "psf"},
   "mark": {"type": "line", "strokeWidth": 3, "clip": true},
   "encoding": {
    "x": {"field": "d", "type": "temporal", "scale": {"type": "utc", "domain": [1577836800000, 1606953600000]}, "axis": {"orient": "top", "title": null, "values": [1577836800000,1580515200000,1583020800000,1585699200000,1588291200000,1590969600000,1593561600000,1596240000000,1598918400000,1601510400000,1604188800000,1606780800000], "labels": false, "tickSize": {"condition": {"test": "utcmonth(datum.value) % 2 === 0", "value": -9}, "value": -5}}},
    "y": {"field": "v", "type": "quantitative", "scale": {"domain": [0, 70], "nice": false}, "axis": {"orient": "right", "title": null, "values": [0,10,20,30,40,50,60], "labelExpr": "datum.value % 20 === 0 ? datum.label : ''", "tickSize": {"condition": {"test": "datum.value % 20 === 0", "value": -9}, "value": -5}, "labelPadding": 17, "labelFlush": 1, "labelFlushOffset": 2}},
    "color": {"datum": "Power Plants"}
   }},
  {"data": {"values": [{"label": "(d) San Francisco"}]},
   "mark": {"type": "text"},
   "encoding": {
    "x": {"datum": 1578614400000, "type": "temporal", "scale": {"type": "utc", "domain": [1577836800000, 1606953600000]}, "axis": null},
    "y": {"datum": 278, "type": "quantitative", "scale": {"domain": [0, 320], "nice": false}, "axis": null},
    "text": {"field": "label", "type": "nominal"}
   }}
 ],
 "resolve": {"scale": {"x": "independent", "y": "independent"}}
},
{
 "width": 485.5, "height": 164,
 "layer": [
  {"data": {"name": "road"}, "transform": [{"filter": "isValid(datum.sj)"}],
   "mark": {"type": "line", "strokeWidth": 3.8, "clip": true},
   "encoding": {
    "x": {"field": "d", "type": "temporal", "scale": {"type": "utc", "domain": [1577836800000, 1606953600000]}, "axis": {"title": null, "values": [1577836800000,1580515200000,1583020800000,1585699200000,1588291200000,1590969600000,1593561600000,1596240000000,1598918400000,1601510400000,1604188800000,1606780800000], "labels": true, "labelExpr": "utcmonth(datum.value) % 2 === 0 ? utcFormat(datum.value, '%m/%d') : ''", "labelPadding": 17, "tickSize": {"condition": {"test": "utcmonth(datum.value) % 2 === 0", "value": -9}, "value": -5}}},
    "y": {"field": "sj", "type": "quantitative", "scale": {"domain": [0, 320], "nice": false}, "axis": {"title": null, "values": [0,10,20,30,40,50,60,70,80,90,100,110,120,130,140,150,160,170,180,190,200,210,220,230,240,250,260,270,280,290,300,310], "labelExpr": "datum.value % 100 === 0 ? datum.label : ''", "tickSize": {"condition": {"test": "datum.value % 100 === 0", "value": -9}, "value": -4.5}, "labelPadding": 13.5, "labelFlush": 1, "labelFlushOffset": 2}},
    "color": {"datum": "On-road", "scale": {"domain": ["Power Plants", "On-road"], "range": ["#1f9bf0", "#ff9900"]}, "legend": {"title": null, "orient": "none", "legendX": 320, "legendY": 7, "symbolType": "M-2,0H2", "symbolSize": 196, "symbolStrokeWidth": 4, "labelFont": "Liberation Sans", "labelFontSize": 18.5, "labelFontWeight": "bold", "labelColor": "#000", "labelOffset": 13, "rowPadding": 1, "padding": 0}}
   }},
  {"data": {"name": "psj"},
   "mark": {"type": "line", "strokeWidth": 3, "clip": true},
   "encoding": {
    "x": {"field": "d", "type": "temporal", "scale": {"type": "utc", "domain": [1577836800000, 1606953600000]}, "axis": {"orient": "top", "title": null, "values": [1577836800000,1580515200000,1583020800000,1585699200000,1588291200000,1590969600000,1593561600000,1596240000000,1598918400000,1601510400000,1604188800000,1606780800000], "labels": false, "tickSize": {"condition": {"test": "utcmonth(datum.value) % 2 === 0", "value": -9}, "value": -5}}},
    "y": {"field": "v", "type": "quantitative", "scale": {"domain": [0, 70], "nice": false}, "axis": {"orient": "right", "title": null, "values": [0,10,20,30,40,50,60], "labelExpr": "datum.value % 20 === 0 ? datum.label : ''", "tickSize": {"condition": {"test": "datum.value % 20 === 0", "value": -9}, "value": -5}, "labelPadding": 17, "labelFlush": 1, "labelFlushOffset": 2}},
    "color": {"datum": "Power Plants"}
   }},
  {"data": {"values": [{"label": "(e) San Joaquin Valley"}]},
   "mark": {"type": "text"},
   "encoding": {
    "x": {"datum": 1578614400000, "type": "temporal", "scale": {"type": "utc", "domain": [1577836800000, 1606953600000]}, "axis": null},
    "y": {"datum": 278, "type": "quantitative", "scale": {"domain": [0, 320], "nice": false}, "axis": null},
    "text": {"field": "label", "type": "nominal"}
   }}
 ],
 "resolve": {"scale": {"x": "independent", "y": "independent"}}
}
]
}
